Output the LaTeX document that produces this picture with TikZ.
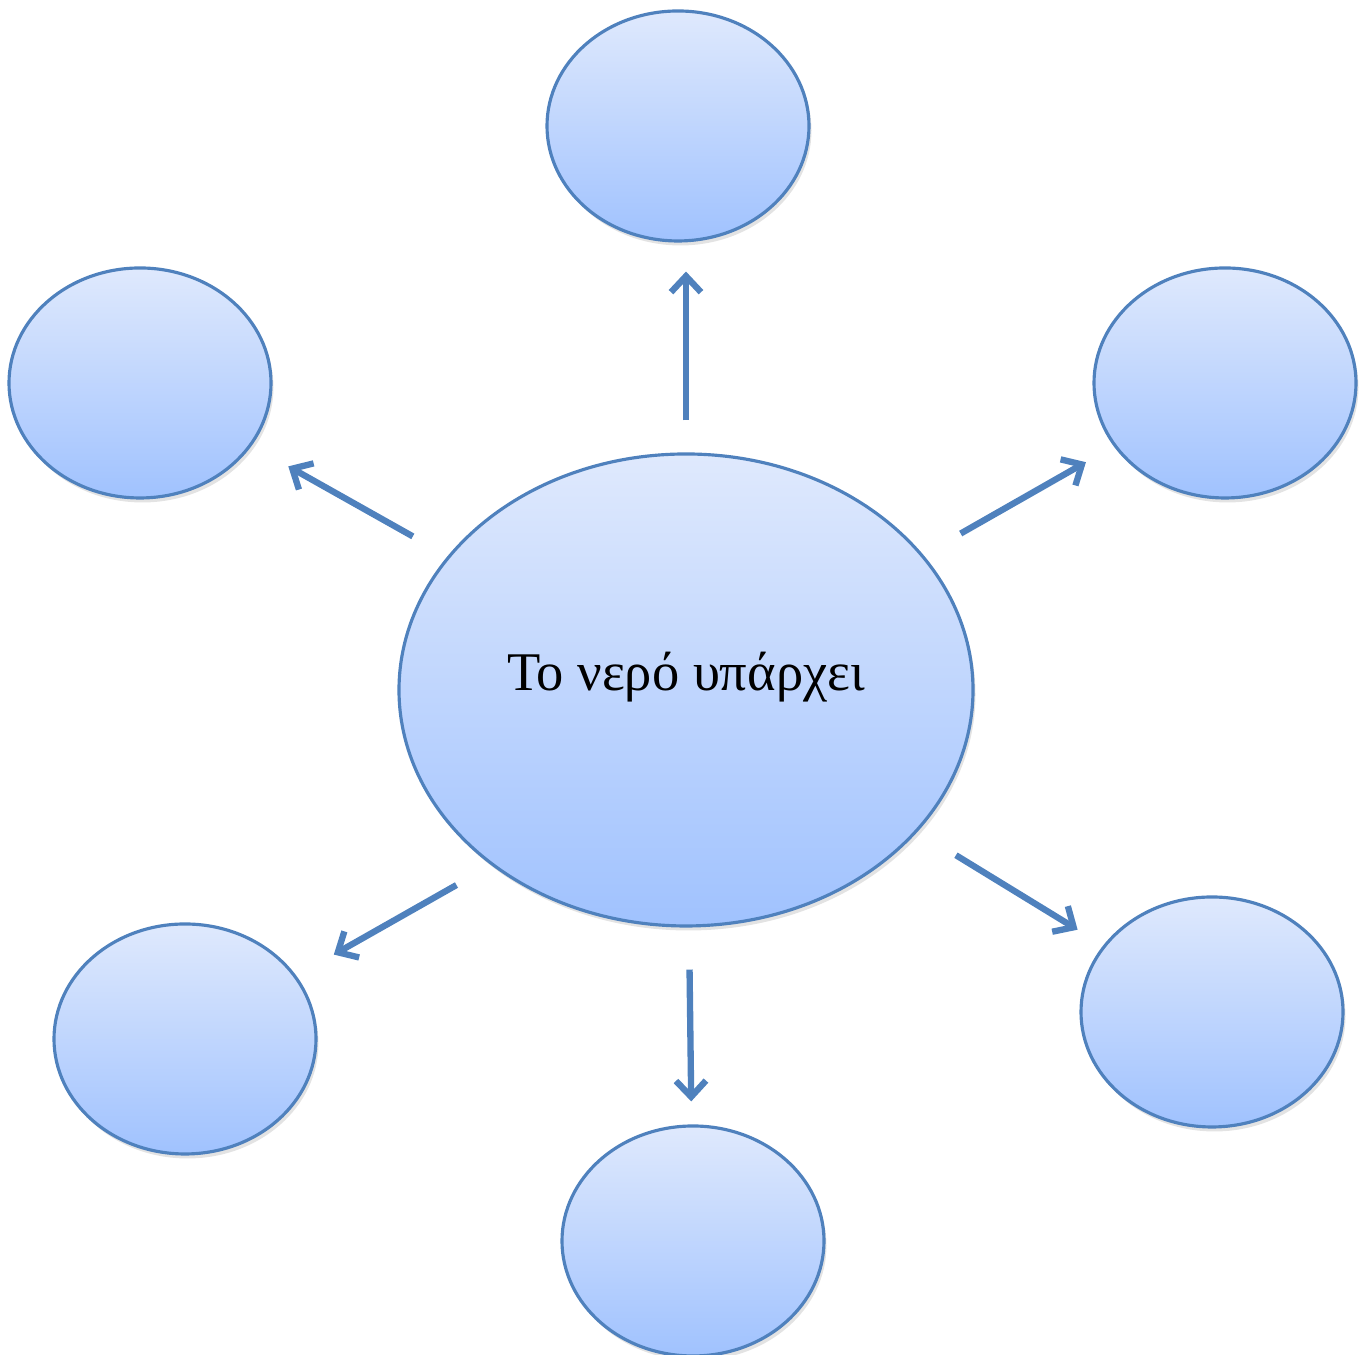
\documentclass[tikz,border=0pt]{standalone}
\usepackage{fontspec}
\setmainfont{Liberation Serif}
\usetikzlibrary{shapes.geometric,arrows.meta,shadows}

\definecolor{bubline}{RGB}{79,129,189}
\definecolor{bubtop}{RGB}{223,233,253}
\definecolor{bubbot}{RGB}{160,194,254}

\tikzset{
  bubble/.style={ellipse, draw=bubline, line width=0.9pt,
    top color=bubtop, bottom color=bubbot,
    drop shadow={shadow xshift=0.025cm, shadow yshift=-0.045cm, opacity=0.22},
    inner sep=0pt, minimum width=2.62cm, minimum height=2.30cm},
  bigbubble/.style={bubble, minimum width=5.74cm, minimum height=4.72cm,
    font=\fontsize{15.5}{19}\selectfont, text height=0.48cm, text depth=0.46cm},
  spoke/.style={draw=bubline, line width=1.8pt,
    -{Straight Barb[length=0.16cm,width=0.3cm]}}
}

\begin{document}
\begin{tikzpicture}
\useasboundingbox (0,0) rectangle (13.68,13.55);

% Center bubble
\node[bigbubble] (water) at (6.86, 6.65) {Το νερό υπάρχει};

% Outer bubbles
\node[bubble] (bubN)  at (6.78, 12.29) {};
\node[bubble] (bubNW) at (1.40, 9.72) {};
\node[bubble] (bubNE) at (12.25, 9.72) {};
\node[bubble] (bubSW) at (1.85, 3.16) {};
\node[bubble] (bubSE) at (12.12, 3.43) {};
\node[bubble] (bubS)  at (6.93, 1.14) {};

% Arrows
\draw[spoke, shorten <=0.32cm, shorten >=0.29cm] (water.north) -- (water.north |- bubN.south);
\draw[spoke, shorten <=0.40cm, shorten >=0.42cm] (water) -- (bubNW);
\draw[spoke, shorten <=0.43cm, shorten >=0.32cm] (water) -- (bubNE);
\draw[spoke, shorten <=0.45cm, shorten >=0.30cm] (water) -- (bubSE);
\draw[spoke, shorten <=0.40cm, shorten >=0.43cm] (water.222) -- (bubSW);
\draw[spoke, shorten <=0.42cm, shorten >=0.23cm] (water) -- (bubS);
\end{tikzpicture}
\end{document}
